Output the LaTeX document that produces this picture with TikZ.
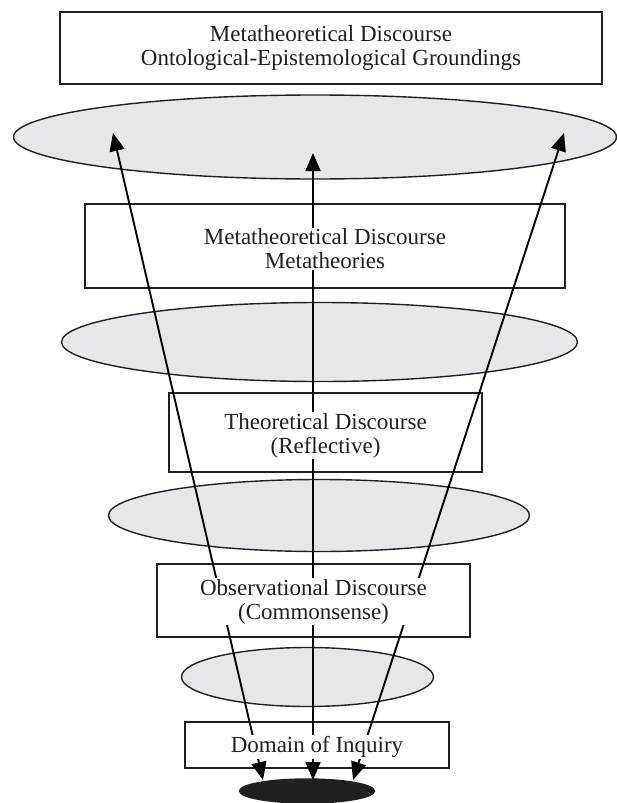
\documentclass[tikz,border=0pt]{standalone}
\usepackage{fontspec}
\setmainfont{Liberation Serif}
\usepackage{tikz}
\usetikzlibrary{shapes.geometric,arrows.meta}
\definecolor{discInk}{RGB}{35,31,32}
\definecolor{discGray}{RGB}{230,231,235}

\begin{document}
\begin{tikzpicture}[x=1pt,y=-1pt,
  discring/.style={ellipse, draw=discInk, fill=discGray, line width=1.4pt, inner sep=0pt},
  discbox/.style={rectangle, draw=discInk, line width=1.5pt, inner sep=0pt},
  disctext/.style={fill=white, inner sep=1pt, align=center, text=discInk, font=\fontsize{23}{24}\selectfont},
  disclink/.style={{Triangle[length=18pt,width=15pt]}-{Triangle[length=18pt,width=15pt]}, line width=1.9pt, black}]
  \useasboundingbox (0,0) rectangle (617,803);

  \node[discring, minimum width=603pt, minimum height=84pt] (ringA) at (315,137) {};
  \node[discring, minimum width=516pt, minimum height=79pt] (ringB) at (319.5,342) {};
  \node[discring, minimum width=421pt, minimum height=72pt] (ringC) at (319,515.5) {};
  \node[discring, minimum width=252pt, minimum height=59pt] (ringD) at (307.5,677) {};
  \node[discring, fill=discInk, minimum width=135pt, minimum height=24pt] (core) at (307,791) {};

  \node[discbox, minimum width=542pt, minimum height=72pt] (ground) at (331,48) {};
  \node[discbox, minimum width=480pt, minimum height=84pt] (meta) at (325,246) {};
  \node[discbox, minimum width=313pt, minimum height=79pt] (theory) at (325.5,432.5) {};
  \node[discbox, minimum width=313pt, minimum height=73pt] (observe) at (313.5,600.5) {};
  \node[discbox, minimum width=264pt, minimum height=46pt] (domain) at (317,745) {};

  \coordinate (fromL) at (263,780);
  \coordinate (fromM) at (313,780);
  \coordinate (fromR) at (353,780);
  \coordinate (toL) at (113,133);
  \coordinate (toM) at (313,153);
  \coordinate (toR) at (564,133);
  \draw[disclink] (fromL) -- (toL);
  \draw[disclink] (fromM) -- (toM);
  \draw[disclink] (fromR) -- (toR);

  \node[disctext] (groundtxt) at (ground) {Metatheoretical Discourse\\Ontological-Epistemological Groundings};
  \node[disctext, yshift=-3pt] (metatxt) at (meta) {Metatheoretical Discourse\\Metatheories};
  \node[disctext, yshift=-3pt] (theorytxt) at (theory) {Theoretical Discourse\\(Reflective)};
  \node[disctext, yshift=-1pt] (observetxt) at (observe) {Observational Discourse\\(Commonsense)};
  \node[disctext, yshift=-2pt] (domaintxt) at (domain) {Domain of Inquiry};
\end{tikzpicture}
\end{document}
